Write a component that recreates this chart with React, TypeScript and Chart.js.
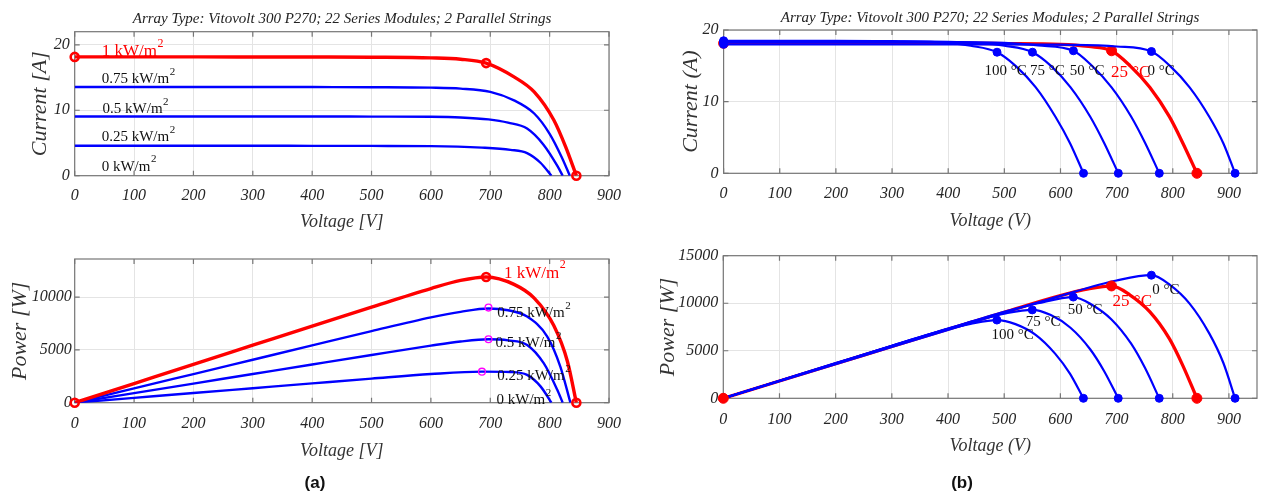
import React, { useEffect, useRef } from 'react';
import { Chart, registerables } from 'chart.js';

Chart.register(...registerables);

const W = 1263;
const H = 494;
const SERIF = '"Liberation Serif", "Times New Roman", serif';
const SANS = '"Liberation Sans", Arial, sans-serif';
const RED = '#ff0000';
const BLUE = '#0000ff';
const MAGENTA = '#ff00ff';
const FRAME = '#767676';
const GRID = '#e4e4e4';
const INK = '#262626';

const TITLE = 'Array Type: Vitovolt 300 P270; 22 Series Modules; 2 Parallel Strings';

// ---------- tick values ----------
const X_TICKS = [0, 100, 200, 300, 400, 500, 600, 700, 800, 900];
const Y_TICKS_CURRENT = [0, 10, 20];
const Y_TICKS_POWER_A = [0, 5000, 10000];
const Y_TICKS_POWER_B = [0, 5000, 10000, 15000];

// ---------- (a) irradiance sweep, I-V ----------
const VOLT_G1000_IV = [0, 100, 200, 300, 400, 500, 600, 650, 693, 740, 774, 807, 827, 845];
const CURR_G1000 = [18.15, 18.15, 18.15, 18.14, 18.13, 18.1, 18.0, 17.8, 17.2, 15.1, 12.8, 8.5, 4.4, 0];
const VOLT_G750_IV = [0, 100, 200, 300, 400, 500, 600, 650, 700, 740, 774, 800, 820, 834];
const CURR_G750 = [13.55, 13.55, 13.55, 13.55, 13.54, 13.52, 13.45, 13.3, 12.8, 11.5, 9.5, 6.4, 2.9, 0];
const VOLT_G500_IV = [0, 100, 200, 300, 400, 500, 600, 650, 697, 730, 762, 790, 813, 822];
const CURR_G500 = [9.05, 9.05, 9.05, 9.05, 9.04, 9.03, 9.0, 8.9, 8.6, 8.1, 7.2, 4.7, 1.5, 0];
const VOLT_G250_IV = [0, 100, 200, 300, 400, 500, 600, 686, 734, 762, 785, 803];
const CURR_G250 = [4.57, 4.57, 4.57, 4.57, 4.56, 4.55, 4.52, 4.29, 3.95, 3.45, 1.94, 0];

// ---------- (a) irradiance sweep, P-V ----------
const VOLT_G1000_PV = [0, 100, 200, 300, 400, 500, 600, 650, 693, 740, 774, 807, 830, 845];
const POW_G1000 = [0, 1815, 3630, 5440, 7250, 9050, 10800, 11570, 11900, 11200, 9900, 7300, 3900, 0];
const VOLT_G750_PV = [0, 100, 200, 300, 400, 500, 600, 650, 697, 730, 762, 796, 818, 835];
const POW_G750 = [0, 1355, 2710, 4065, 5420, 6770, 8070, 8600, 8920, 8750, 8150, 6260, 3420, 0];
const VOLT_G500_PV = [0, 100, 200, 300, 400, 500, 600, 650, 697, 730, 762, 790, 813, 822];
const POW_G500 = [0, 905, 1810, 2715, 3620, 4520, 5400, 5790, 6000, 5900, 5470, 3740, 1200, 0];
const VOLT_G250_PV = [0, 100, 200, 300, 400, 500, 600, 686, 734, 762, 785, 803];
const POW_G250 = [0, 457, 914, 1370, 1826, 2280, 2712, 2940, 2900, 2630, 1520, 0];
const MPP_MARK_V = [697, 697, 686];
const MPP_MARK_P = [9000, 6010, 2940];

// ---------- (b) temperature sweep ----------
const VOLT_T0 = [0, 100, 200, 300, 400, 500, 600, 700, 762, 795, 830, 865, 890, 911];
const CURR_T0 = [18.0, 18.0, 18.0, 18.0, 18.0, 18.0, 17.95, 17.7, 17.0, 15.0, 12.0, 7.9, 4.2, 0];
const POW_T0 = [0, 1800, 3600, 5400, 7200, 9000, 10770, 12390, 12950, 11925, 9960, 6830, 3740, 0];
const VOLT_T25 = [0, 100, 200, 300, 400, 500, 600, 650, 691, 724, 759, 794, 818, 843];
const CURR_T25 = [18.15, 18.15, 18.15, 18.15, 18.15, 18.1, 18.0, 17.7, 17.1, 15.0, 12.0, 7.9, 4.2, 0];
const POW_T25 = [0, 1815, 3630, 5445, 7260, 9050, 10800, 11500, 11820, 10860, 9110, 6270, 3440, 0];
const VOLT_T50 = [0, 100, 200, 300, 400, 500, 560, 623, 656, 691, 726, 751, 776];
const CURR_T50 = [18.3, 18.3, 18.3, 18.3, 18.3, 18.2, 17.85, 17.1, 15.0, 12.0, 7.9, 4.2, 0];
const POW_T50 = [0, 1830, 3660, 5490, 7320, 9100, 10000, 10650, 9840, 8290, 5740, 3150, 0];
const VOLT_T75 = [0, 100, 200, 300, 400, 450, 500, 550, 583, 618, 653, 678, 703];
const CURR_T75 = [18.4, 18.4, 18.4, 18.4, 18.35, 18.2, 17.8, 16.9, 15.0, 12.0, 7.9, 4.2, 0];
const POW_T75 = [0, 1840, 3680, 5520, 7340, 8190, 8900, 9300, 8750, 7420, 5160, 2850, 0];
const VOLT_T100 = [0, 100, 200, 300, 400, 440, 487, 520, 556, 591, 617, 641];
const CURR_T100 = [18.5, 18.5, 18.5, 18.45, 18.2, 17.8, 16.9, 15.0, 12.0, 7.9, 4.2, 0];
const POW_T100 = [0, 1850, 3700, 5535, 7280, 7830, 8230, 7800, 6670, 4670, 2590, 0];

// ---------- labels ----------
const IRR_LABELS = ['1 kW/m', '0.75 kW/m', '0.5 kW/m', '0.25 kW/m', '0 kW/m'];
const TEMP_LABELS = ['100 °C', '75 °C', '50 °C', '25 °C', '0 °C'];

// ---------- helpers ----------
type Pt = { x: number; y: number };
const pts = (xs: number[], ys: number[]): Pt[] => xs.map((x, k) => ({ x, y: ys[k] }));
const pick = (arr: number[], idx: number[]) => idx.map((k) => arr[k]);
const argmax = (arr: number[]) => arr.indexOf(Math.max(...arr));
const ends = (arr: number[], mid: number) => [0, mid, arr.length - 1];

const line = (xs: number[], ys: number[], color: string, width: number, order = 0) => ({
  data: pts(xs, ys),
  showLine: true,
  borderColor: color,
  backgroundColor: color,
  borderWidth: width,
  pointRadius: 0,
  pointHoverRadius: 0,
  cubicInterpolationMode: 'monotone',
  fill: false,
  order,
});

const marks = (xs: number[], ys: number[], color: string, radius: number, filled: boolean, bw: number, order = 0) => ({
  data: pts(xs, ys),
  showLine: false,
  pointRadius: radius,
  pointHoverRadius: radius,
  pointBorderColor: color,
  pointBackgroundColor: filled ? color : 'rgba(0,0,0,0)',
  pointBorderWidth: bw,
  clip: false,
  order,
});

type Label = { x: number; y: number; text: string; sup?: string; color?: string; size?: number };
type PageText = { x: number; y: number; text: string; font: string; color: string };
type Area = { l: number; t: number; r: number; b: number; yW: number; xH: number };
type Spec = {
  area: Area;
  xMax: number;
  yMax: number;
  yTicks: number[];
  xPad: number;
  yPad: number;
  xTitle: string;
  yTitle: string;
  datasets: any[];
  labels: Label[];
  page: PageText[];
};

function makeDecor(labels: Label[], page: PageText[]) {
  return {
    id: 'decor',
    beforeDatasetsDraw(chart: any) {
      const { ctx, chartArea: a, scales } = chart;
      ctx.save();
      ctx.strokeStyle = FRAME;
      ctx.lineWidth = 1.2;
      ctx.strokeRect(a.left, a.top, a.right - a.left, a.bottom - a.top);
      const tl = 5;
      ctx.beginPath();
      for (const t of scales.x.ticks) {
        const px = scales.x.getPixelForValue(t.value);
        ctx.moveTo(px, a.bottom);
        ctx.lineTo(px, a.bottom - tl);
        ctx.moveTo(px, a.top);
        ctx.lineTo(px, a.top + tl);
      }
      for (const t of scales.y.ticks) {
        const py = scales.y.getPixelForValue(t.value);
        ctx.moveTo(a.left, py);
        ctx.lineTo(a.left + tl, py);
        ctx.moveTo(a.right, py);
        ctx.lineTo(a.right - tl, py);
      }
      ctx.stroke();
      ctx.restore();
    },
    afterDatasetsDraw(chart: any) {
      const { ctx, scales } = chart;
      ctx.save();
      ctx.textAlign = 'left';
      ctx.textBaseline = 'middle';
      for (const lb of labels) {
        const size = lb.size ?? 15;
        const px = scales.x.getPixelForValue(lb.x);
        const py = scales.y.getPixelForValue(lb.y);
        ctx.fillStyle = lb.color ?? '#111';
        ctx.font = `${size}px ${SERIF}`;
        ctx.fillText(lb.text, px, py);
        if (lb.sup) {
          const w = ctx.measureText(lb.text).width;
          ctx.font = `${Math.round(size * 0.72)}px ${SERIF}`;
          ctx.fillText(lb.sup, px + w + 0.5, py - size * 0.48);
        }
      }
      ctx.restore();
    },
    afterDraw(chart: any) {
      const { ctx } = chart;
      ctx.save();
      ctx.textAlign = 'center';
      ctx.textBaseline = 'middle';
      for (const p of page) {
        ctx.font = p.font;
        ctx.fillStyle = p.color;
        ctx.fillText(p.text, p.x, p.y);
      }
      ctx.restore();
    },
  };
}

function buildConfig(s: Spec): any {
  const { area } = s;
  const tickFont = { family: SERIF, size: 16, style: 'italic' as const, lineHeight: 1.2 };
  const setTicks = (values: number[]) => (sc: any) => {
    sc.ticks = values.map((v) => ({ value: v }));
  };
  const plain = (v: any) => String(v);
  return {
    type: 'scatter',
    data: { datasets: s.datasets },
    options: {
      responsive: false,
      animation: false,
      events: [],
      layout: {
        padding: {
          left: area.l - area.yW,
          top: area.t,
          right: W - area.r,
          bottom: H - area.b - area.xH,
        },
      },
      plugins: {
        legend: { display: false },
        tooltip: { enabled: false },
        title: { display: false },
      },
      scales: {
        x: {
          type: 'linear',
          position: 'bottom',
          min: 0,
          max: s.xMax,
          afterFit: (sc: any) => {
            sc.height = area.xH;
          },
          afterBuildTicks: setTicks(X_TICKS),
          ticks: { padding: s.xPad, font: tickFont, color: INK, maxRotation: 0, autoSkip: false, callback: plain },
          grid: { color: GRID, lineWidth: 1, drawTicks: false },
          border: { display: false },
          title: {
            display: true,
            text: s.xTitle,
            font: { family: SERIF, size: 18, style: 'italic', lineHeight: 1.2 },
            color: '#333',
            padding: 0,
          },
        },
        y: {
          type: 'linear',
          position: 'left',
          min: 0,
          max: s.yMax,
          afterFit: (sc: any) => {
            sc.width = area.yW;
          },
          afterBuildTicks: setTicks(s.yTicks),
          ticks: { padding: s.yPad, font: tickFont, color: INK, autoSkip: false, callback: plain },
          grid: { color: GRID, lineWidth: 1, drawTicks: false },
          border: { display: false },
          title: {
            display: true,
            text: s.yTitle,
            font: { family: SERIF, size: 22, style: 'italic', lineHeight: 1.2 },
            color: '#333',
            padding: 0,
          },
        },
      },
    },
    plugins: [makeDecor(s.labels, s.page)],
  };
}

// ---------- panel specs ----------
const i1000 = VOLT_G1000_IV.indexOf(693);
const p1000 = argmax(POW_G1000);

const SPEC_TL: Spec = {
  area: { l: 74.7, t: 31.7, r: 609, b: 175.7, yW: 47.4, xH: 57 },
  xMax: 900,
  yMax: 22,
  yTicks: Y_TICKS_CURRENT,
  xPad: 10,
  yPad: 5,
  xTitle: 'Voltage [V]',
  yTitle: 'Current [A]',
  datasets: [
    line(VOLT_G250_IV, CURR_G250, BLUE, 2.4),
    line(VOLT_G500_IV, CURR_G500, BLUE, 2.4),
    line(VOLT_G750_IV, CURR_G750, BLUE, 2.4),
    line(VOLT_G1000_IV, CURR_G1000, RED, 3.4, -1),
    marks(
      pick(VOLT_G1000_IV, ends(VOLT_G1000_IV, i1000)),
      pick(CURR_G1000, ends(CURR_G1000, i1000)),
      RED, 4, false, 2.6, -2
    ),
  ],
  labels: [
    { x: 45.5, y: 18.9, text: IRR_LABELS[0], sup: '2', color: RED, size: 17 },
    { x: 45.5, y: 14.8, text: IRR_LABELS[1], sup: '2' },
    { x: 47, y: 10.15, text: IRR_LABELS[2], sup: '2' },
    { x: 45.5, y: 5.84, text: IRR_LABELS[3], sup: '2' },
    { x: 45.5, y: 1.37, text: IRR_LABELS[4], sup: '2' },
  ],
  page: [{ x: 342, y: 19, text: TITLE, font: `italic 15px ${SERIF}`, color: '#222' }],
};

const SPEC_BL: Spec = {
  area: { l: 74.7, t: 259, r: 609, b: 402.7, yW: 67.9, xH: 59 },
  xMax: 900,
  yMax: 13600,
  yTicks: Y_TICKS_POWER_A,
  xPad: 11,
  yPad: 3,
  xTitle: 'Voltage [V]',
  yTitle: 'Power [W]',
  datasets: [
    line(VOLT_G250_PV, POW_G250, BLUE, 2.4),
    line(VOLT_G500_PV, POW_G500, BLUE, 2.4),
    line(VOLT_G750_PV, POW_G750, BLUE, 2.4),
    line(VOLT_G1000_PV, POW_G1000, RED, 3.4, -1),
    marks(
      pick(VOLT_G1000_PV, ends(VOLT_G1000_PV, p1000)),
      pick(POW_G1000, ends(POW_G1000, p1000)),
      RED, 4, false, 2.6, -2
    ),
    marks(MPP_MARK_V, MPP_MARK_P, MAGENTA, 3.4, false, 1.3, -3),
  ],
  labels: [
    { x: 723, y: 12250, text: IRR_LABELS[0], sup: '2', color: RED, size: 17 },
    { x: 711.6, y: 8480, text: IRR_LABELS[1], sup: '2' },
    { x: 708.8, y: 5635, text: IRR_LABELS[2], sup: '2' },
    { x: 711.6, y: 2533, text: IRR_LABELS[3], sup: '2' },
    { x: 710.5, y: 256, text: IRR_LABELS[4], sup: '2' },
  ],
  page: [{ x: 315, y: 483, text: '(a)', font: `bold 17px ${SANS}`, color: '#111' }],
};

type TCurve = { v: number[]; i: number[]; p: number[]; red: boolean };
const T_CURVES: TCurve[] = [
  { v: VOLT_T100, i: CURR_T100, p: POW_T100, red: false },
  { v: VOLT_T75, i: CURR_T75, p: POW_T75, red: false },
  { v: VOLT_T50, i: CURR_T50, p: POW_T50, red: false },
  { v: VOLT_T25, i: CURR_T25, p: POW_T25, red: true },
  { v: VOLT_T0, i: CURR_T0, p: POW_T0, red: false },
];

function tempDatasets(usePower: boolean, redMarksOnTop: boolean) {
  const out: any[] = [];
  for (const c of T_CURVES) {
    const ys = usePower ? c.p : c.i;
    const idx = ends(c.v, argmax(c.p));
    if (c.red) {
      out.push(line(c.v, ys, RED, 3.3, 6));
      out.push(marks(pick(c.v, idx), pick(ys, idx), RED, 5, true, 1, redMarksOnTop ? -5 : 5));
    } else {
      out.push(line(c.v, ys, BLUE, 2.2, 0));
      out.push(marks(pick(c.v, idx), pick(ys, idx), BLUE, 4, true, 1, -1));
    }
  }
  return out;
}

const SPEC_TR: Spec = {
  area: { l: 723.6, t: 30, r: 1260.5, b: 173.3, yW: 45.1, xH: 58.5 },
  xMax: 950,
  yMax: 20,
  yTicks: Y_TICKS_CURRENT,
  xPad: 11,
  yPad: 5,
  xTitle: 'Voltage (V)',
  yTitle: 'Current (A)',
  datasets: tempDatasets(false, false),
  labels: [
    { x: 464.6, y: 14.3, text: TEMP_LABELS[0] },
    { x: 545.5, y: 14.3, text: TEMP_LABELS[1] },
    { x: 616.3, y: 14.3, text: TEMP_LABELS[2] },
    { x: 690, y: 14.0, text: TEMP_LABELS[3], color: RED, size: 17 },
    { x: 754.9, y: 14.3, text: TEMP_LABELS[4] },
  ],
  page: [{ x: 990, y: 18.5, text: TITLE, font: `italic 15px ${SERIF}`, color: '#222' }],
};

const SPEC_BR: Spec = {
  area: { l: 723.3, t: 255.7, r: 1260.5, b: 398.3, yW: 68.5, xH: 58.5 },
  xMax: 950,
  yMax: 15000,
  yTicks: Y_TICKS_POWER_B,
  xPad: 12,
  yPad: 5,
  xTitle: 'Voltage (V)',
  yTitle: 'Power [W]',
  datasets: tempDatasets(true, true),
  labels: [
    { x: 477.5, y: 6660, text: TEMP_LABELS[0] },
    { x: 538.4, y: 8060, text: TEMP_LABELS[1] },
    { x: 613.3, y: 9290, text: TEMP_LABELS[2] },
    { x: 693, y: 10160, text: TEMP_LABELS[3], color: RED, size: 17 },
    { x: 763.7, y: 11350, text: TEMP_LABELS[4] },
  ],
  page: [{ x: 962, y: 483, text: '(b)', font: `bold 17px ${SANS}`, color: '#111' }],
};

function Panel({ spec }: { spec: Spec }) {
  const ref = useRef<HTMLCanvasElement>(null);
  useEffect(() => {
    if (!ref.current) return;
    const chart = new Chart(ref.current, buildConfig(spec));
    return () => chart.destroy();
  }, [spec]);
  return (
    <canvas
      ref={ref}
      width={W}
      height={H}
      style={{ position: 'absolute', left: 0, top: 0, width: W, height: H }}
    />
  );
}

export default function App() {
  return (
    <div style={{ position: 'fixed', left: 0, top: 0, width: W, height: H, background: '#ffffff', overflow: 'hidden' }}>
      <Panel spec={SPEC_TL} />
      <Panel spec={SPEC_BL} />
      <Panel spec={SPEC_TR} />
      <Panel spec={SPEC_BR} />
    </div>
  );
}
